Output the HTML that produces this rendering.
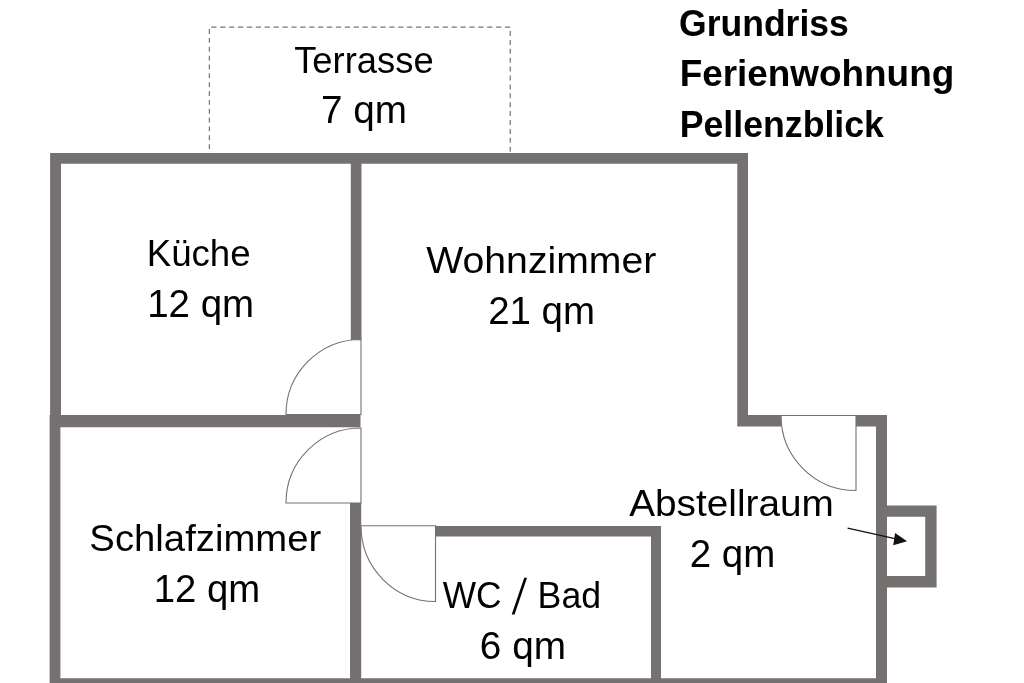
<!DOCTYPE html>
<html lang="de">
<head>
<meta charset="utf-8">
<title>Grundriss Ferienwohnung Pellenzblick</title>
<style>
html,body{margin:0;padding:0;background:#fff;}
body{width:1024px;height:683px;overflow:hidden;font-family:"Liberation Sans",sans-serif;}
svg{display:block}
svg text{font-family:"Liberation Sans",sans-serif;font-size:36.5px;fill:#000;}
svg text.b{font-size:35px;font-weight:bold;}
</style>
</head>
<body>
<svg width="1024" height="683" viewBox="0 0 1024 683">
<rect width="1024" height="683" fill="#fff"/>
<g fill="none" stroke="#777" stroke-width="1.25">
<line x1="211.3" y1="27.15" x2="510.6" y2="27.15" stroke-dasharray="5.2 3.7"/>
<line x1="209.4" y1="29.1" x2="209.4" y2="153" stroke-dasharray="4.9 3.95"/>
<line x1="510.25" y1="31" x2="510.25" y2="153" stroke-dasharray="5 3.9"/>
</g>
<path fill="#767171" d="M50.1 153H748V163.7H50.1Z M50.1 153H61V415.5H50.1Z M49.6 415H60.4V683H49.6Z M49.6 415H360.5V427.2H49.6Z M350.8 153H361.5V340H350.8Z M350 503H361.2V683H350Z M49.6 678.3H887V683H49.6Z M435.5 526H661V536.5H435.5Z M651 526H661V683H651Z M737.3 153H748V426.4H737.3Z M737.3 415H886.8V426.4H737.3Z M876 415H887V683H876Z M876 505.5H936.6V516.8H876Z M925.2 505.5H936.6V587.5H925.2Z M876 576.1H936.6V587.5H876Z"/>
<g fill="#fff" stroke="#767171" stroke-width="1.1" stroke-linejoin="miter">
<path d="M361 414.5H286A75 75 0 0 1 361 339.5Z"/>
<path d="M361 503H286A75 75 0 0 1 361 428Z"/>
<path d="M435.5 525.8H361A74.5 75.7 0 0 0 435.5 601.5Z"/>
<path d="M856 415.5H781A75 75 0 0 0 856 490.5Z"/>
</g>
<g stroke="#111" fill="#111">
<line x1="847.6" y1="528.1" x2="896" y2="538.8" stroke-width="1.2"/>
<path d="M907.1 541.3L895.1 532.9L893.2 545.2Z" stroke="none"/>
</g>
<g opacity="0.999">
<text transform="translate(294.15 72.90) scale(0.9971 1.03)">Terrasse</text>
<text transform="translate(321.04 123.10) scale(1.0610 1.04)">7 qm</text>
<text transform="translate(146.69 266.00) scale(1.0046 1.03)">Küche</text>
<text transform="translate(147.20 316.60) scale(1.0545 1.04)">12 qm</text>
<text transform="translate(426.23 273.20) scale(1.0740 1.03)">Wohnzimmer</text>
<text transform="translate(488.16 324.10) scale(1.0540 1.04)">21 qm</text>
<text transform="translate(89.36 550.60) scale(1.0491 1.03)">Schlafzimmer</text>
<text transform="translate(153.81 601.90) scale(1.0494 1.04)">12 qm</text>
<text transform="translate(442.76 607.60) scale(0.9678 1.03)">WC</text>
<text transform="translate(511.80 613.60) skewX(-8.15) scale(1 1.37)">/</text>
<text transform="translate(537.57 607.60) scale(0.9782 1.03)">Bad</text>
<text transform="translate(479.84 659.00) scale(1.0623 1.04)">6 qm</text>
<text transform="translate(629.20 516.10) scale(1.0623 1.03)">Abstellraum</text>
<text transform="translate(689.75 567.10) scale(1.0545 1.04)">2 qm</text>
<text transform="translate(678.98 35.60) scale(1.0161 1.03)" class="b">Grundriss</text>
<text transform="translate(679.63 86.20) scale(1.0539 1.03)" class="b">Ferienwohnung</text>
<text transform="translate(679.71 137.00) scale(1.0197 1.03)" class="b">Pellenzblick</text>
</g>
</svg>
</body>
</html>
